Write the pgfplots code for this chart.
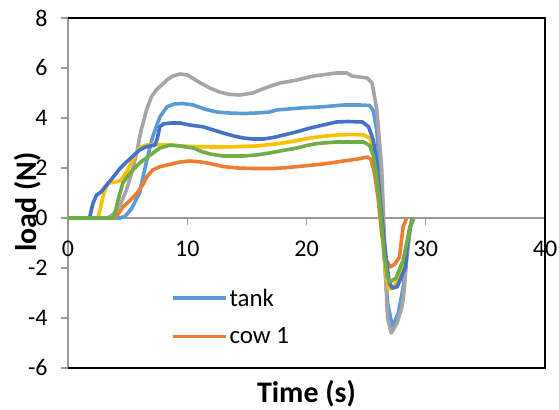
\documentclass[border=0pt]{standalone}
\usepackage{fontspec}
\setmainfont{Carlito}
\usepackage{pgfplots}
\pgfplotsset{compat=1.18}
\definecolor{tankc}{HTML}{5B9BD5}
\definecolor{cowc}{HTML}{ED7D31}
\definecolor{grayc}{HTML}{A5A5A5}
\definecolor{yellowc}{HTML}{FFC000}
\definecolor{dbluec}{HTML}{4472C4}
\definecolor{greenc}{HTML}{70AD47}

\begin{document}
\begin{tikzpicture}
\begin{axis}[
  scale only axis, width=477bp, height=350bp,
  xmin=0, xmax=40, ymin=-6, ymax=8,
  axis x line=middle, axis y line=left,
  axis line style={-, draw=gray!80, line width=1.5bp},
  xtick={0,10,20,30,40}, ytick={-6,-4,...,8},
  hide obscured x ticks=false,
  tick align=outside, major tick length=7bp,
  tick style={gray!80, line width=1.2bp},
  minor tick num=0,
  ticklabel style={font=\fontsize{24}{28}\selectfont},
  /pgf/number format/assume math mode=true,
  xticklabel style={yshift=-12bp},
  yticklabel style={xshift=-10bp},
  xlabel={Time (s)}, ylabel={load (N)},
  xlabel style={at={(rel axis cs:0.5,-0.072)}, anchor=center,
    font=\fontsize{30}{34}\selectfont\bfseries},
  ylabel style={at={(rel axis cs:-0.084,0.474)}, anchor=center, rotate=0,
    font=\fontsize{30}{34}\selectfont\bfseries},
  clip=false,
  every axis plot/.append style={line width=3.6bp, line join=round},
  legend style={at={(axis cs:8.6,-2.75)}, anchor=north west, draw=none, fill=none,
    font=\fontsize{25}{30}\selectfont, row sep=16bp, inner sep=0pt},
  legend cell align=left,
  legend image code/.code={\draw[#1, line width=3.8bp] (0,0) -- (53bp,0);},
]
\coordinate (o) at (rel axis cs:0,0);
\draw[black, line width=1.6bp] (rel axis cs:0,1) -- (rel axis cs:1,1) -- (rel axis cs:1,0) -- (rel axis cs:0,0);

% tank
\addplot[tankc] coordinates {
 (0,0) (4.4,0) (4.8,0.08) (5.3,0.35) (6.0,1.0) (6.6,2.3) (7.1,3.25) (7.7,4.04)
 (8.3,4.45) (8.9,4.56) (9.6,4.58) (10.5,4.52) (11.5,4.35) (12.5,4.24) (13.5,4.2)
 (14.7,4.18) (15.8,4.2) (16.9,4.24) (17.5,4.32) (19.5,4.4) (21.4,4.45) (23.1,4.52)
 (24.5,4.52) (25.3,4.5) (25.6,4.3) (25.9,3.5) (26.2,1.5) (26.5,-1.5) (26.8,-3.4)
 (27.2,-4.36) (27.7,-3.8) (28.1,-2.8) (28.4,-1.5) (28.7,-0.4) (28.9,0)
};
\addlegendentry{tank}
% cow 1
\addplot[cowc] coordinates {
 (0,0) (3.8,0) (4.2,0.15) (4.6,0.44) (5.2,0.7) (5.8,1.0) (6.3,1.35) (6.6,1.64)
 (7.1,1.92) (7.7,2.05) (8.3,2.12) (9.4,2.24) (10.2,2.28) (11.0,2.25) (11.9,2.18)
 (13.0,2.06) (14.2,2.0) (15.5,1.98) (17.2,1.98) (18.5,2.02) (19.7,2.08) (21.0,2.14)
 (22.0,2.2) (23.1,2.28) (24.3,2.36) (25.1,2.44) (25.4,2.35) (25.7,1.8) (26.0,0.8)
 (26.3,-0.6) (26.6,-1.6) (27.0,-1.96) (27.4,-1.85) (27.8,-1.56) (28.1,-0.35) (28.4,0)
};
\addlegendentry{cow 1}
% gray
\addplot[grayc, forget plot] coordinates {
 (0,0) (3.3,0) (3.8,0.15) (4.4,0.55) (4.9,1.12) (5.4,1.9) (5.8,2.7) (6.1,3.45)
 (6.6,4.35) (7.0,4.85) (7.4,5.12) (8.3,5.52) (8.8,5.68) (9.4,5.76) (10.0,5.72)
 (10.5,5.58) (11.1,5.4) (11.9,5.2) (12.7,5.04) (13.5,4.95) (14.4,4.92) (15.5,5.0)
 (16.1,5.12) (17.0,5.28) (17.8,5.4) (19.2,5.52) (20.6,5.68) (22.5,5.8) (23.4,5.8)
 (23.8,5.68) (25.1,5.6) (25.5,5.4) (25.9,4.32) (26.3,2.04) (26.45,0.3) (26.6,-2.0)
 (26.8,-4.0) (27.1,-4.6) (27.6,-4.2) (28.0,-3.56) (28.15,-3.1) (28.4,-1.68)
 (28.7,-0.35) (29.0,0)
};
% yellow
\addplot[yellowc, forget plot] coordinates {
 (0,0) (2.5,0) (2.7,0.35) (2.95,0.9) (3.2,1.25) (3.4,1.4) (4.0,1.44) (4.4,1.5)
 (4.7,1.7) (5.0,1.92) (5.4,2.3) (5.8,2.65) (6.1,2.84) (6.6,2.92) (7.7,2.94)
 (8.5,2.92) (9.4,2.88) (10.5,2.86) (12.0,2.84) (13.0,2.84) (14.5,2.86) (15.8,2.88)
 (17.0,2.94) (18.0,3.0) (19.2,3.1) (20.3,3.2) (21.5,3.27) (22.5,3.32) (23.8,3.34)
 (24.8,3.32) (25.3,3.2) (25.7,2.7) (26.0,1.6) (26.3,0.0) (26.6,-2.0) (26.9,-2.85)
 (27.3,-2.8) (27.8,-2.3) (28.3,-1.5) (28.6,-0.5) (28.9,0)
};
% dark blue
\addplot[dbluec, forget plot] coordinates {
 (0,0) (1.8,0) (2.1,0.6) (2.4,0.92) (2.8,1.05) (3.1,1.24) (3.8,1.64) (4.3,1.95)
 (4.9,2.24) (5.5,2.5) (6.0,2.72) (6.5,2.84) (6.9,2.88) (7.3,2.92) (7.5,3.2)
 (7.7,3.65) (8.0,3.76) (8.6,3.8) (9.4,3.8) (10.2,3.72) (11.3,3.65) (12.0,3.55)
 (13.0,3.4) (14.0,3.27) (14.7,3.2) (15.5,3.16) (16.4,3.16) (17.2,3.22) (18.1,3.32)
 (19.2,3.45) (20.3,3.6) (21.4,3.72) (22.5,3.84) (23.5,3.86) (24.7,3.84) (25.2,3.65)
 (25.6,3.12) (25.9,2.2) (26.2,0.6) (26.4,-0.35) (26.7,-1.7) (26.95,-2.6) (27.2,-2.8)
 (27.6,-2.75) (28.0,-2.3) (28.3,-1.96) (28.5,-0.9) (28.7,-0.35) (28.9,0)
};
% green
\addplot[greenc, forget plot] coordinates {
 (0,0) (3.8,0) (4.0,0.3) (4.2,0.72) (4.6,1.4) (5.2,1.8) (5.6,2.0) (6.0,2.2)
 (6.9,2.52) (7.7,2.8) (8.6,2.92) (9.4,2.88) (10.5,2.8) (11.3,2.64) (12.0,2.55)
 (13.0,2.48) (14.7,2.48) (15.8,2.52) (16.9,2.6) (18.0,2.7) (19.2,2.8) (20.0,2.9)
 (20.9,2.98) (22.5,3.04) (24.8,3.04) (25.3,2.9) (25.6,2.5) (25.9,1.6) (26.2,0.3)
 (26.5,-1.4) (26.8,-2.4) (27.0,-2.56) (27.5,-2.4) (28.1,-1.7) (28.4,-1.0)
 (28.7,-0.35) (29.0,0)
};
\end{axis}
\pgfresetboundingbox
\path[use as bounding box] (o) ++(-68bp,-42bp) rectangle ++(559bp,410bp);
\end{tikzpicture}
\end{document}
